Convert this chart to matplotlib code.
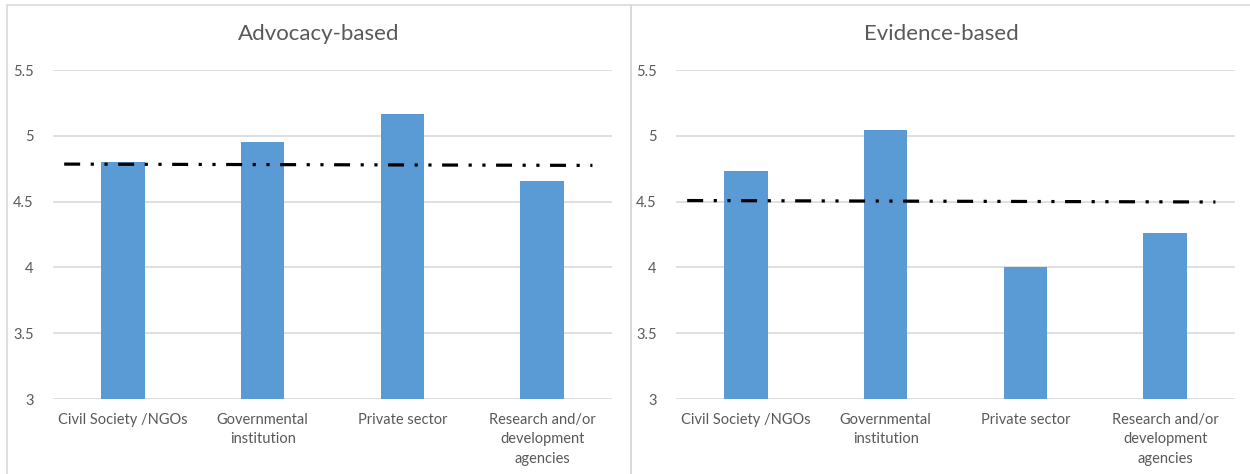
import matplotlib.pyplot as plt
from matplotlib.patches import Rectangle

plt.rcParams['font.family'] = ['Lato', 'DejaVu Sans']

categories = ['Civil Society /NGOs', 'Governmental\ninstitution', 'Private sector',
              'Research and/or\ndevelopment\nagencies']
advocacy = [4.80, 4.955, 5.165, 4.655]
evidence = [4.73, 5.045, 4.005, 4.265]
# reference (dash-dot-dot) line: value at left end, value at right end
advocacy_ref = [4.785, 4.775]
evidence_ref = [4.508, 4.497]
ref_x = [-0.42, 3.36]

BAR = '#5b9bd5'
GRID = '#d9d9d9'
TEXT = '#595959'

W, H = 1250, 474
fig = plt.figure(figsize=(W / 100, H / 100), dpi=100)

# chart frames
for x0, x1 in [(7, 631), (631, 1251)]:
    fig.patches.append(Rectangle((x0 / W, -0.1), (x1 - x0) / W, (H - 5) / H + 0.1,
                                 transform=fig.transFigure, fill=False,
                                 edgecolor=GRID, linewidth=1.2))


def draw(ax, title, values, ref, tx):
    x = range(len(categories))
    ax.bar(x, values, width=0.31, color=BAR, zorder=2)
    ax.plot(ref_x, ref, color='black', linewidth=2.3, zorder=3,
            dashes=[5, 3.3, 1, 3.3, 1, 3.3])
    ax.set_xlim(-0.5, 3.5)
    ax.set_ylim(3, 5.5)
    ax.set_yticks([3, 3.5, 4, 4.5, 5, 5.5])
    ax.set_yticklabels(['3', '3.5', '4', '4.5', '5', '5.5'])
    ax.set_xticks(list(x))
    ax.set_xticklabels(categories, linespacing=1.5)
    ax.yaxis.grid(True, color=GRID, linewidth=1.2, zorder=0)
    ax.set_axisbelow(True)
    for s in ax.spines.values():
        s.set_visible(False)
    ax.tick_params(length=0, labelsize=10.5, labelcolor=TEXT)
    ax.tick_params(axis='y', pad=14)
    ax.tick_params(axis='x', pad=10)
    fig.text(tx / W, 1 - 34 / H, title, ha='center', va='center',
             fontsize=16, color=TEXT)


ax1 = fig.add_axes([53 / W, 75 / H, 559 / W, 329 / H])
ax2 = fig.add_axes([676 / W, 75 / H, 559 / W, 329 / H])
draw(ax1, 'Advocacy-based', advocacy, advocacy_ref, 319)
draw(ax2, 'Evidence-based', evidence, evidence_ref, 941)

fig.savefig('out.png', dpi=100, facecolor='white')
